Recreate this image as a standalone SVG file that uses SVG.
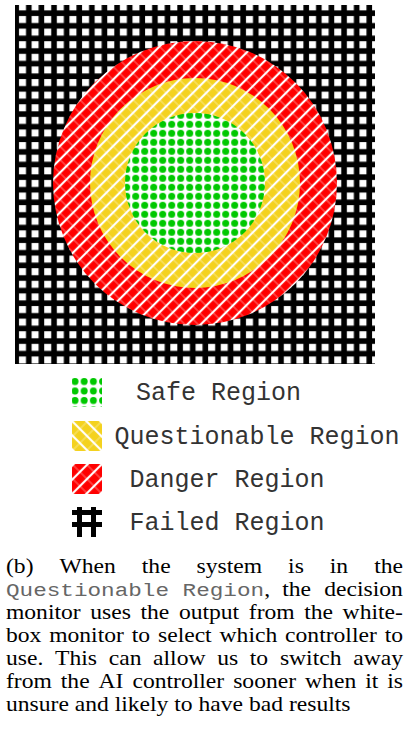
<svg xmlns="http://www.w3.org/2000/svg" width="409" height="729" viewBox="0 0 409 729">
<style>
.leg { font-family: "Liberation Mono", "Courier New", monospace; font-size: 25px; fill: #333; }
.cap { font-family: "Liberation Serif", "Times New Roman", serif; font-size: 20px; fill: #000; }
.capmono { font-family: "Liberation Mono", "Courier New", monospace; font-size: 19.2px; fill: #666; }
.thick { stroke: #fff; stroke-width: 2.2; }
.thin { stroke: #fff; stroke-width: 0.6; stroke-opacity: 0.75; }
</style>
<defs>
<pattern id="grid" patternUnits="userSpaceOnUse" x="16" y="0.4" width="12.61" height="12.61">
<rect width="12.61" height="12.61" fill="#000"/>
<rect x="3" y="3" width="7" height="7" fill="#fff"/>
</pattern>
<pattern id="dots" patternUnits="userSpaceOnUse" x="122.2" y="137.8" width="9" height="9">
<rect width="9" height="9" fill="#fff"/>
<circle cx="4.5" cy="4.5" r="3.5" fill="#00c800"/>
</pattern>
<pattern id="dotsL" patternUnits="userSpaceOnUse" x="70.5" y="377" width="9.2" height="9.5">
<rect width="9.2" height="9.5" fill="#fff"/>
<circle cx="4.5" cy="4.5" r="3.5" fill="#00c800"/>
</pattern>
<pattern id="hatchR" patternUnits="userSpaceOnUse" width="9.4" height="9.4" patternTransform="rotate(45)">
<rect width="9.4" height="9.4" fill="#ff0000"/>
<line class="thin" x1="0" y1="4.7" x2="9.4" y2="4.7"/>
<line class="thick" x1="4.7" y1="0" x2="4.7" y2="9.4"/>
</pattern>
<pattern id="hatchY" patternUnits="userSpaceOnUse" width="9.4" height="9.4" patternTransform="rotate(45)">
<rect width="9.4" height="9.4" fill="#f4d21f"/>
<line class="thin" x1="0" y1="4.7" x2="9.4" y2="4.7"/>
<line class="thick" x1="4.7" y1="0" x2="4.7" y2="9.4"/>
</pattern>
<pattern id="hatchYL" patternUnits="userSpaceOnUse" x="72" y="421" width="10" height="10" patternTransform="rotate(-45 87 436)">
<rect width="10" height="10" fill="#f4d21f"/>
<line class="thin" x1="0" y1="5" x2="10" y2="5"/>
<line class="thick" x1="5" y1="0" x2="5" y2="10"/>
</pattern>
<pattern id="hatchRL" patternUnits="userSpaceOnUse" x="72" y="464" width="10" height="10" patternTransform="rotate(45 87 479)">
<rect width="10" height="10" fill="#ff0000"/>
<line class="thin" x1="0" y1="5" x2="10" y2="5"/>
<line class="thick" x1="5" y1="0" x2="5" y2="10"/>
</pattern>
</defs>

<g id="failed-region">
<rect x="15" y="5" width="360" height="359" fill="url(#grid)"/>
</g>
<g id="danger-region">
<circle cx="195" cy="183" r="142" fill="url(#hatchR)"/>
</g>
<g id="questionable-region">
<circle cx="195" cy="183" r="105" fill="url(#hatchY)"/>
</g>
<g id="safe-region">
<circle cx="195" cy="183" r="70" fill="url(#dots)"/>
</g>
<g id="connectors"/>

<g id="legend">
<g id="legend-safe">
<rect x="72" y="378" width="30" height="29" fill="url(#dotsL)"/>
<text class="leg" x="136" y="400">Safe Region</text>
</g>
<g id="legend-questionable">
<rect x="72" y="421" width="30" height="30" fill="url(#hatchYL)"/>
<text class="leg" x="114.5" y="443.5">Questionable Region</text>
</g>
<g id="legend-danger">
<rect x="72" y="464" width="30" height="30" fill="url(#hatchRL)"/>
<text class="leg" x="129.5" y="486.5">Danger Region</text>
</g>
<g id="legend-failed">
<rect x="72" y="507" width="30" height="30" fill="#fff"/>
<rect x="77" y="507" width="5" height="30" fill="#000"/>
<rect x="91" y="507" width="5" height="30" fill="#000"/>
<rect x="72" y="510" width="30" height="5" fill="#000"/>
<rect x="72" y="522" width="30" height="5" fill="#000"/>
<text class="leg" x="129.5" y="529.5">Failed Region</text>
</g>
</g>

<g id="caption" transform="scale(1.18 1)">
<text class="cap" y="573"><tspan x="5.08">(b)</tspan><tspan x="50.42">When</tspan><tspan x="120.17">the</tspan><tspan x="166.61">system</tspan><tspan x="244.15">is</tspan><tspan x="279.49">in</tspan><tspan x="317.12">the</tspan></text>
<text class="capmono" x="5.08" y="596">Questionable Region</text>
<text class="cap" y="596"><tspan x="224">,</tspan><tspan x="239.15">the</tspan><tspan x="274.83">decision</tspan></text>
<text class="cap" y="619"><tspan x="5.08">monitor</tspan><tspan x="76.53">uses</tspan><tspan x="119.07">the</tspan><tspan x="151.61">output</tspan><tspan x="210.85">from</tspan><tspan x="257.8">the</tspan><tspan x="290.34">white-</tspan></text>
<text class="cap" y="642"><tspan x="5.08">box</tspan><tspan x="41.69">monitor</tspan><tspan x="111.69">to</tspan><tspan x="133.9">select</tspan><tspan x="186.1">which</tspan><tspan x="241.61">controller</tspan><tspan x="326.02">to</tspan></text>
<text class="cap" y="665"><tspan x="5.08">use.</tspan><tspan x="46.61">This</tspan><tspan x="92.12">can</tspan><tspan x="129.75">allow</tspan><tspan x="184.07">us</tspan><tspan x="211.69">to</tspan><tspan x="237.2">switch</tspan><tspan x="299.32">away</tspan></text>
<text class="cap" y="688"><tspan x="5.08">from</tspan><tspan x="51.53">the</tspan><tspan x="83.56">AI</tspan><tspan x="112.29">controller</tspan><tspan x="197.63">sooner</tspan><tspan x="258.56">when</tspan><tspan x="309.49">it</tspan><tspan x="328.22">is</tspan></text>
<text class="cap" x="5.08" y="711">unsure and likely to have bad results</text>
</g>
</svg>
